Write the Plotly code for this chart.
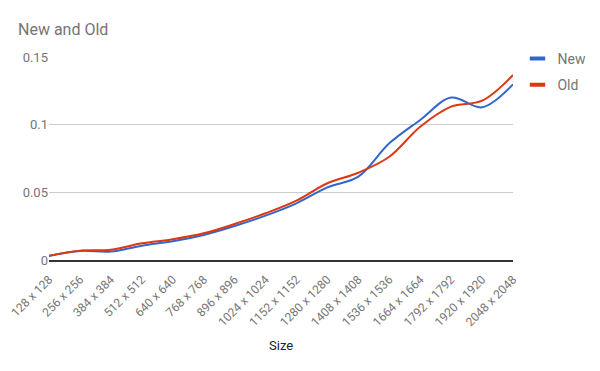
import plotly.graph_objects as go

sizes = [128, 256, 384, 512, 640, 768, 896, 1024, 1152, 1280, 1408, 1536, 1664, 1792, 1920, 2048]
categories = [f"{s} x {s}" for s in sizes]
new_values = [0.0030, 0.0067, 0.0062, 0.0106, 0.0138, 0.0185, 0.0251, 0.0328, 0.0419, 0.0537,
              0.0616, 0.0862, 0.1035, 0.1200, 0.1128, 0.1298]
old_values = [0.0032, 0.0069, 0.0076, 0.0123, 0.0153, 0.0197, 0.0266, 0.0345, 0.0438, 0.0567,
              0.0645, 0.0763, 0.0985, 0.1133, 0.1177, 0.1367]
series_names = ["New", "Old"]
series_colors = ["#3366cc", "#dc3912"]
y_ticks = [0, 0.05, 0.1, 0.15]
y_tick_labels = ["0", "0.05", "0.1", "0.15"]

FONT = "Roboto, Arial, sans-serif"
GREY = "#757575"

# page has an 8px body margin; figure is sized to fill the rest of the 600x371 window
W, H = 592, 363
L, R, T, B = 40.5, 86.5, 49, 111
PW, PH = W - L - R, H - T - B

fig = go.Figure()
for name, vals, col in zip(series_names, [new_values, old_values], series_colors):
    fig.add_trace(go.Scatter(x=categories, y=vals, name=name, mode="lines", showlegend=False,
                             line=dict(color=col, width=2, shape="spline", smoothing=1)))
    # legend entry with short thick marker
    fig.add_trace(go.Scatter(x=[None], y=[None], name=name, mode="markers", legendgroup=name,
                             marker=dict(symbol="line-ew", size=11, color=col,
                                         line=dict(color=col, width=4))))

fig.update_layout(
    width=W, height=H,
    margin=dict(l=L, r=R, t=T, b=B, autoexpand=False),
    paper_bgcolor="white", plot_bgcolor="white",
    font=dict(family=FONT, color=GREY, size=13),
    title=dict(text="New and Old", x=10 / W, xanchor="left", xref="container",
               y=(H - 21) / H, yanchor="middle", yref="container",
               font=dict(size=16, color=GREY, family=FONT)),
    legend=dict(x=(510 - L) / PW, xanchor="left", y=1 + (T - 35) / PH, yanchor="top",
                font=dict(size=14, color=GREY), bgcolor="rgba(0,0,0,0)",
                tracegroupgap=5, traceorder="grouped"),
    xaxis=dict(type="category", tickangle=-45, showgrid=False, zeroline=False,
               showline=True, linecolor="#333333", linewidth=1.5, ticks="",
               ticklabelshift=0, ticklabelstandoff=6,
               tickfont=dict(size=12, color=GREY), automargin=False),
    yaxis=dict(range=[0, 0.15], tickvals=y_ticks, ticktext=y_tick_labels,
               showgrid=True, gridcolor="#cccccc", gridwidth=1, zeroline=False,
               ticks="", tickfont=dict(size=13, color=GREY), automargin=False),
    annotations=[dict(text="Size", x=(281 - 48.5) / 465, xref="paper", xanchor="center",
                      y=-(345 - 260) / 203, yref="paper", yanchor="middle",
                      showarrow=False, font=dict(size=13, color="#222222"))],
)

fig.write_html("out.html")
